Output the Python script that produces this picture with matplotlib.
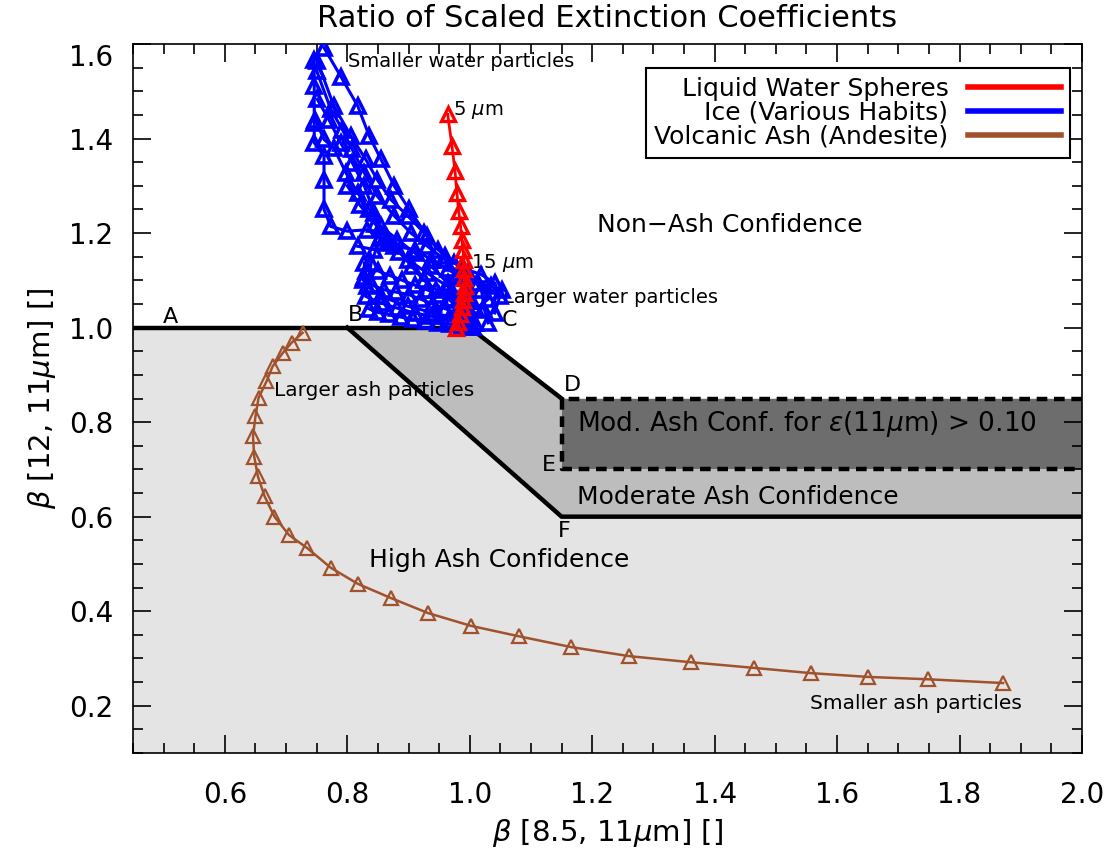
import matplotlib
matplotlib.use('Agg')
import matplotlib.pyplot as plt

# ---------------- data ----------------
# Liquid water spheres (5 um at top -> larger drops at bottom)
water_x = [0.964, 0.971, 0.976, 0.979, 0.982, 0.985, 0.987, 0.989, 0.990, 0.990,
           0.991, 0.992, 0.991, 0.989, 0.987, 0.984, 0.981, 0.978]
water_y = [1.451, 1.384, 1.331, 1.285, 1.246, 1.215, 1.186, 1.165, 1.144, 1.123,
           1.105, 1.088, 1.073, 1.058, 1.043, 1.028, 1.012, 1.000]

# Volcanic ash (andesite): larger particles at top -> smaller at right end
ash_x = [0.727, 0.709, 0.695, 0.678, 0.668, 0.655, 0.650, 0.646, 0.648, 0.654,
         0.665, 0.681, 0.705, 0.735, 0.773, 0.817, 0.871, 0.932, 1.002, 1.080,
         1.166, 1.260, 1.361, 1.465, 1.557, 1.650, 1.748, 1.871]
ash_y = [0.989, 0.968, 0.947, 0.918, 0.886, 0.851, 0.812, 0.770, 0.727, 0.685,
         0.643, 0.600, 0.561, 0.533, 0.492, 0.458, 0.428, 0.396, 0.369, 0.347,
         0.324, 0.305, 0.292, 0.280, 0.269, 0.261, 0.256, 0.248]

# Ice, various habits
ice1_x = [0.762, 0.790, 0.817, 0.836, 0.855, 0.877, 0.901, 0.931, 0.959, 0.989, 1.019, 1.041, 1.049, 1.041]
ice1_y = [1.592, 1.530, 1.469, 1.405, 1.356, 1.299, 1.250, 1.193, 1.151, 1.126, 1.112, 1.094, 1.066, 1.031]
ice2_x = [0.751, 0.778, 0.806, 0.830, 0.849, 0.871, 0.899, 0.926, 0.948, 0.975, 0.997, 1.019, 1.024, 1.030]
ice2_y = [1.564, 1.469, 1.405, 1.356, 1.313, 1.271, 1.236, 1.200, 1.165, 1.137, 1.115, 1.080, 1.038, 1.010]
ice3_x = [0.750, 0.773, 0.792, 0.808, 0.828, 0.849, 0.877, 0.904, 0.931, 0.959, 0.981, 0.997, 1.005, 1.008]
ice3_y = [1.543, 1.462, 1.419, 1.377, 1.327, 1.278, 1.236, 1.200, 1.172, 1.144, 1.115, 1.080, 1.045, 1.010]
ice4_x = [0.748, 0.762, 0.778, 0.798, 0.817, 0.836, 0.855, 0.882, 0.910, 0.937, 0.964, 0.981, 0.992, 1.000]
ice4_y = [1.440, 1.398, 1.380, 1.327, 1.285, 1.250, 1.214, 1.186, 1.158, 1.130, 1.094, 1.059, 1.024, 1.002]
ice5_x = [0.746, 0.746, 0.746, 0.746, 0.762, 0.762, 0.762, 0.773, 0.800, 0.833, 0.866, 0.899, 0.931, 0.964, 0.986]
ice5_y = [1.567, 1.511, 1.433, 1.391, 1.363, 1.313, 1.250, 1.214, 1.204, 1.207, 1.179, 1.144, 1.115, 1.087, 1.052]
ice6_x = [0.828, 0.828, 0.830, 0.855, 0.882, 0.910, 0.937, 0.964, 0.986, 0.997]
ice6_y = [1.137, 1.108, 1.066, 1.052, 1.041, 1.031, 1.024, 1.017, 1.010, 1.006]
ice7_x = [0.817, 0.844, 0.877, 0.910, 0.937, 0.964, 0.986, 1.013, 1.035, 1.052]
ice7_y = [1.172, 1.165, 1.172, 1.165, 1.144, 1.123, 1.108, 1.094, 1.087, 1.080]
ice8_x = [0.751, 0.770, 0.789, 0.808, 0.828, 0.844, 0.855, 0.839, 0.833, 0.855, 0.899, 0.942, 0.986]
ice8_y = [1.483, 1.440, 1.391, 1.349, 1.299, 1.243, 1.193, 1.137, 1.087, 1.066, 1.045, 1.031, 1.017]
ice9_x = [0.826, 0.840, 0.860, 0.880, 0.900, 0.920, 0.940, 0.960, 0.980, 1.000]
ice9_y = [1.100, 1.090, 1.080, 1.075, 1.070, 1.060, 1.050, 1.040, 1.030, 1.020]
ice10_x = [0.830, 0.850, 0.870, 0.890, 0.910, 0.930, 0.950, 0.970, 0.990, 1.010, 1.030]
ice10_y = [1.120, 1.120, 1.110, 1.100, 1.090, 1.080, 1.070, 1.060, 1.050, 1.040, 1.060]
ice11_x = [0.800, 0.820, 0.845, 0.865, 0.885, 0.905, 0.925, 0.945, 0.965, 0.985, 1.000]
ice11_y = [1.300, 1.260, 1.220, 1.190, 1.160, 1.130, 1.100, 1.080, 1.060, 1.040, 1.020]
ice12_x = [0.835, 0.850, 0.868, 0.888, 0.908, 0.928, 0.948, 0.968, 0.988, 1.005]
ice12_y = [1.040, 1.032, 1.028, 1.022, 1.018, 1.014, 1.010, 1.008, 1.004, 1.002]

# Confidence-region boundary vertices
region_labels = ['A', 'B', 'C', 'D', 'E', 'F']
region_x = [0.45, 0.80, 1.00, 1.15, 1.15, 1.15]
region_y = [1.00, 1.00, 1.00, 0.85, 0.70, 0.60]

legend_labels = ['Liquid Water Spheres', 'Ice (Various Habits)', 'Volcanic Ash (Andesite)']
x_ticks = [0.6, 0.8, 1.0, 1.2, 1.4, 1.6, 1.8, 2.0]
y_ticks = [0.2, 0.4, 0.6, 0.8, 1.0, 1.2, 1.4, 1.6]

# ---------------- figure ----------------
plt.rcParams['font.family'] = ['DejaVu Sans']
plt.rcParams['mathtext.fontset'] = 'dejavusans'

fig = plt.figure(figsize=(11.14, 8.61), dpi=100)
ax = fig.add_axes([133/1114, 1 - 753/861, (1082-133)/1114, (753-44)/861])
xmin, xmax, ymin, ymax = 0.45, 2.0, 0.1, 1.6
ax.set_xlim(xmin, xmax)
ax.set_ylim(ymin, ymax)

LIGHT, MID, DARK = '#e4e4e4', '#bdbdbd', '#6d6d6d'
A, B, C, D, E, F = [(region_x[i], region_y[i]) for i in range(6)]

ax.fill([xmin, A[0], B[0], F[0], xmax, xmax], [ymin, A[1], B[1], F[1], F[1], ymin],
        color=LIGHT, lw=0, zorder=0)
ax.fill([B[0], C[0], D[0], xmax, xmax, F[0]], [B[1], C[1], D[1], D[1], F[1], F[1]],
        color=MID, lw=0, zorder=0)
ax.fill([E[0], D[0], xmax, xmax], [E[1], D[1], D[1], E[1]], color=DARK, lw=0, zorder=0)

ax.plot([A[0], C[0]], [A[1], C[1]], color='black', lw=3.2, zorder=2, solid_capstyle='butt')
ax.plot([B[0], F[0], xmax], [B[1], F[1], F[1]], color='black', lw=3.2, zorder=2)
ax.plot([C[0], D[0]], [C[1], D[1]], color='black', lw=3.2, zorder=2)
ax.plot([xmax, D[0], E[0], xmax], [D[1], D[1], E[1], E[1]], color='black', lw=3.2,
        ls=(0, (2.4, 1.5)), zorder=2)

letter_off = {'A': (0.061, 0.023), 'B': (0.014, 0.026), 'C': (0.065, 0.017),
              'D': (0.018, 0.028), 'E': (-0.020, 0.010), 'F': (0.005, -0.030)}
for lab, xx, yy in zip(region_labels, region_x, region_y):
    dx, dy = letter_off[lab]
    ax.text(xx + dx, yy + dy, lab, fontsize=16, ha='center', va='center', zorder=3)

# data curves
RED, BLUE, BROWN = '#ff0000', '#0000ff', '#a0522d'
ice_x = [ice1_x, ice2_x, ice3_x, ice4_x, ice5_x, ice6_x, ice7_x, ice8_x,
         ice9_x, ice10_x, ice11_x, ice12_x]
ice_y = [ice1_y, ice2_y, ice3_y, ice4_y, ice5_y, ice6_y, ice7_y, ice8_y,
         ice9_y, ice10_y, ice11_y, ice12_y]
for xs, ys in zip(ice_x, ice_y):
    ax.plot(xs, ys, color=BLUE, lw=2.2, marker='^', ms=10, mfc='none', mew=2.6, zorder=4)
ax.plot(water_x, water_y, color=RED, lw=2, marker='^', ms=10, mfc='none', mew=2.4, zorder=5)
ax.plot(ash_x, ash_y, color=BROWN, lw=1.8, marker='^', ms=10, mfc='none', mew=1.6, zorder=5)

# annotations
ax.text(0.801, 1.563, 'Smaller water particles', fontsize=14, va='center')
ax.text(0.973, 1.460, r'5 $\mu$m', fontsize=14, va='center')
ax.text(1.002, 1.136, r'15 $\mu$m', fontsize=14, va='center')
ax.text(1.055, 1.064, 'Larger water particles', fontsize=14, va='center')
ax.text(0.681, 0.866, 'Larger ash particles', fontsize=14.5, va='center')
ax.text(1.556, 0.205, 'Smaller ash particles', fontsize=14.5, va='center')
ax.text(1.424, 1.218, 'Non\u2212Ash Confidence', fontsize=18, ha='center', va='center')
ax.text(1.048, 0.508, 'High Ash Confidence', fontsize=18, ha='center', va='center')
ax.text(1.175, 0.642, 'Moderate Ash Confidence', fontsize=18, va='center')
ax.text(1.175, 0.797, r'Mod. Ash Conf. for $\epsilon$(11$\mu$m) > 0.10', fontsize=19, va='center')

# legend
handles = [plt.Line2D([], [], color=c, lw=4) for c in (RED, BLUE, BROWN)]
leg = ax.legend(handles, legend_labels, loc='upper right', bbox_to_anchor=(0.987, 0.966),
                borderaxespad=0, markerfirst=False, fontsize=18, handlelength=3.7,
                handletextpad=0.8, labelspacing=0.0, fancybox=False, framealpha=1,
                edgecolor='black', borderpad=0.35)
leg.get_frame().set_linewidth(1.5)
leg.set_zorder(6)

# axes styling
ax.set_xticks(x_ticks)
ax.set_yticks(y_ticks)
ax.set_xticklabels([f'{v:.1f}' for v in x_ticks])
ax.set_yticklabels([f'{v:.1f}' for v in y_ticks])
ax.set_xticks([v / 100 for v in range(45, 201, 5)], minor=True)
ax.set_yticks([v / 100 for v in range(10, 161, 5)], minor=True)
ax.tick_params(which='both', direction='in', top=True, right=True, width=1.2, labelsize=20)
ax.tick_params(which='major', length=13)
ax.tick_params(which='minor', length=7.5)
ax.tick_params(axis='x', pad=20)
ax.tick_params(axis='y', pad=14)
for s in ax.spines.values():
    s.set_linewidth(1.2)
ax.yaxis.get_major_ticks()[-1].label1.set_verticalalignment('top')

ax.set_xlabel(r'$\beta$ [8.5, 11$\mu$m] []', fontsize=21, labelpad=6)
ax.set_ylabel(r'$\beta$ [12, 11$\mu$m] []', fontsize=21, labelpad=8)
ax.set_title('Ratio of Scaled Extinction Coefficients', fontsize=22, pad=12)

fig.savefig('out.png', dpi=100)
